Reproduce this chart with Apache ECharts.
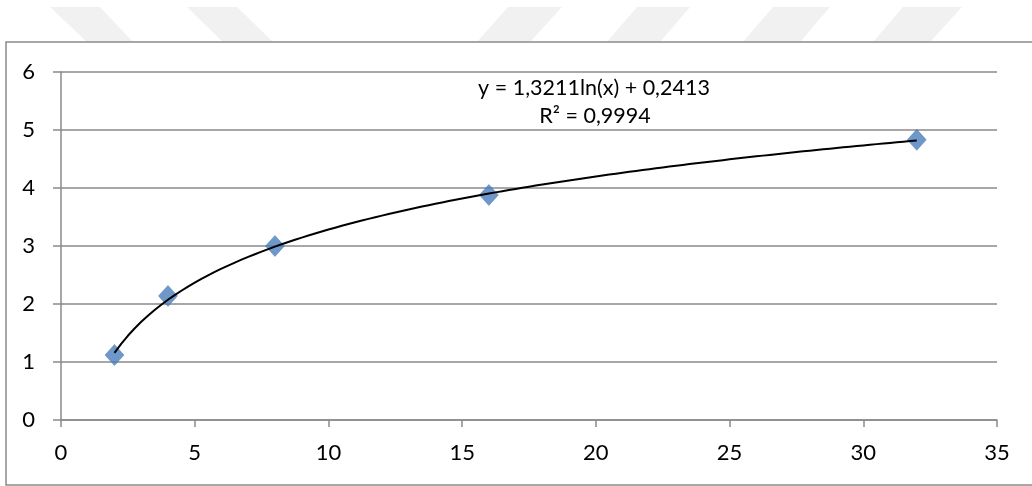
<!DOCTYPE html>
<html>
<head>
<meta charset="utf-8">
<script src="https://cdn.jsdelivr.net/npm/echarts@6/dist/echarts.min.js"></script>
<style>
html,body{margin:0;padding:0;background:#fff;}
#chart{width:1032px;height:486px;}
</style>
</head>
<body>
<div id="chart"></div>
<script>
// ---- data ----
const xValues = [2, 4, 8, 16, 32];
const yValues = [1.12, 2.14, 3.00, 3.88, 4.83];
const trendCoef = [1.3211, 0.2413]; // y = a ln(x) + b
const trendRange = [2, 32];
const equationLines = ['y = 1,3211ln(x) + 0,2413', 'R² = 0,9994'];
const xTicks = [0, 5, 10, 15, 20, 25, 30, 35];
const yTicks = [0, 1, 2, 3, 4, 5, 6];

const points = xValues.map((x, i) => [x, yValues[i]]);
const trend = [];
for (let x = trendRange[0]; x <= trendRange[1] + 1e-9; x += 0.25) {
  trend.push([x, trendCoef[0] * Math.log(x) + trendCoef[1]]);
}

const FONT = 'Lato';
const gridColor = '#8a8a8a';

const chart = echarts.init(document.getElementById('chart'), null, {renderer: 'canvas'});

const wm = '#f1f1f1';
const shapes = [
  [[50,7],[100,7],[133,42],[87,42]],
  [[187,7],[237,7],[273,42],[223,42]],
  [[508,7],[562,7],[530,42],[477,42]],
  [[637,7],[690,7],[660,42],[607,42]],
  [[773,7],[830,7],[800,42],[743,42]],
  [[903,7],[962,7],[930,42],[873,42]]
];

chart.setOption({
  animation: false,
  backgroundColor: '#ffffff',
  grid: {left: 61, right: 35, top: 72, bottom: 66, containLabel: false},
  xAxis: {
    type: 'value', min: 0, max: 35, interval: 5,
    axisLine: {show: true, lineStyle: {color: gridColor, width: 1.5}},
    axisTick: {show: true, length: 7, lineStyle: {color: gridColor, width: 1.5}},
    axisLabel: {color: '#000', fontFamily: FONT, fontSize: 22, margin: 22},
    splitLine: {show: false}
  },
  yAxis: {
    type: 'value', min: 0, max: 6, interval: 1,
    axisLine: {show: true, lineStyle: {color: gridColor, width: 1.5}},
    axisTick: {show: true, length: 8, lineStyle: {color: gridColor, width: 1.5}},
    axisLabel: {color: '#000', fontFamily: FONT, fontSize: 22, margin: 26},
    splitLine: {show: true, lineStyle: {color: gridColor, width: 1.5}}
  },
  graphic: [
    ...shapes.map(s => ({type: 'polygon', shape: {points: s}, style: {fill: wm}, silent: true, z: -1})),
    {type: 'rect', shape: {x: 6, y: 42, width: 1040, height: 443}, style: {fill: 'none', stroke: '#8a8a8a', lineWidth: 1.5}, silent: true},
    {type: 'text', x: 594, y: 88, style: {text: equationLines[0], fill: '#000', font: '21.5px ' + FONT, textAlign: 'center', textVerticalAlign: 'middle'}},
    {type: 'text', x: 595, y: 116, style: {text: equationLines[1], fill: '#000', font: '21.5px ' + FONT, textAlign: 'center', textVerticalAlign: 'middle'}}
  ],
  series: [
    {
      type: 'scatter', data: points, symbol: 'diamond', symbolSize: [19, 21],
      itemStyle: {color: '#4A7EBB', borderColor: '#3f6fa8', borderWidth: 0.5}, z: 2
    },
    {
      type: 'line', data: trend, showSymbol: false, symbol: 'none', smooth: false,
      lineStyle: {color: '#000', width: 2}, z: 3
    }
  ]
});
</script>
</body>
</html>
